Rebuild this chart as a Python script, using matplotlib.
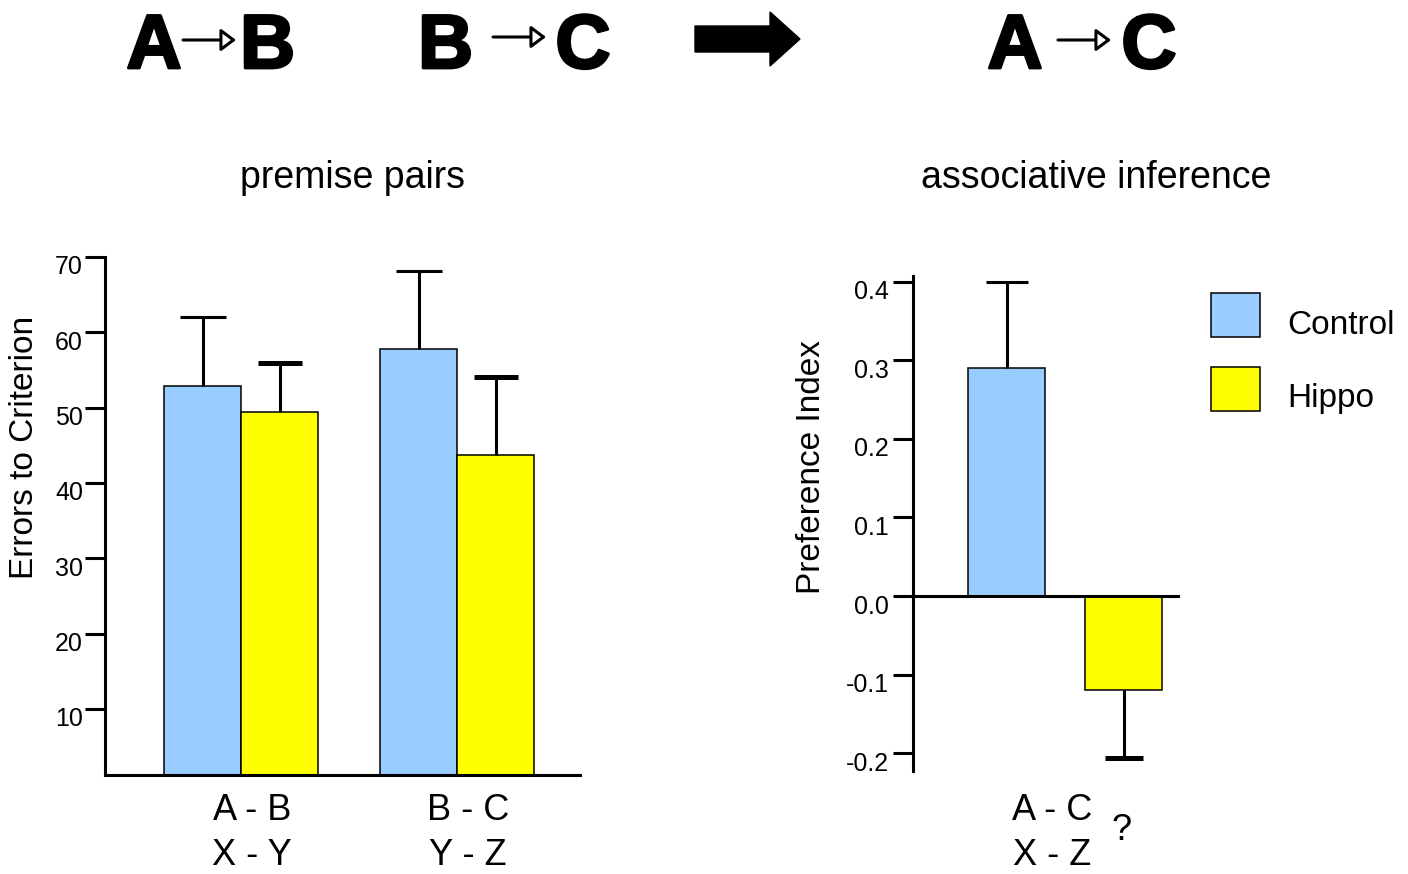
import matplotlib
matplotlib.use("Agg")
import numpy as np
import matplotlib.pyplot as plt
import matplotlib.transforms as mtransforms
from matplotlib.patches import FancyArrow, FancyArrowPatch, ArrowStyle, Patch
from matplotlib import patheffects

# ================== data ==================
pair_labels = ["A - B\nX - Y", "B - C\nY - Z"]
errors_control = [52.9, 57.8]
errors_control_sem = [9.1, 10.3]
errors_hippo = [49.4, 43.7]
errors_hippo_sem = [6.5, 10.4]
errors_ticks = [10, 20, 30, 40, 50, 60, 70]

inference_label = "A - C\nX - Z"
pref_control = [0.29]
pref_control_sem = [0.11]
pref_hippo = [-0.12]
pref_hippo_sem = [0.086]
pref_ticks = [-0.2, -0.1, 0.0, 0.1, 0.2, 0.3, 0.4]
pref_ticklabels = ["-0.2", "-0.1", "0.0", "0.1", "0.2", "0.3", "0.4"]

group_names = ["Control", "Hippo"]

# ================== style ==================
W, H = 1408, 874
CONTROL = "#99CCFF"
HIPPO = "#FFFF00"
LW = 2.2

plt.rcParams['font.family'] = ['Liberation Sans', 'DejaVu Sans']

fig = plt.figure(figsize=(W / 100, H / 100), dpi=100)
# pixel coords, origin top-left
px = mtransforms.Affine2D().scale(1 / W, -1 / H).translate(0, 1) + fig.transFigure


def rect(left, top, right, bottom):
    return [left / W, 1 - bottom / H, (right - left) / W, (bottom - top) / H]


def one_sided(ax, xs, ys, errs, up, capsize, capthick):
    zeros = np.zeros(len(errs))
    yerr = [zeros, errs] if up else [errs, zeros]
    _, caps, _ = ax.errorbar(xs, ys, yerr=yerr, fmt='none', ecolor='black',
                             elinewidth=LW, capsize=capsize, capthick=capthick, zorder=3)
    caps[0 if up else 1].set_visible(False)


def nudge(texts, dy):
    off = mtransforms.ScaledTranslation(0, -dy / 100, fig.dpi_scale_trans)
    for t in texts:
        t.set_transform(t.get_transform() + off)


# ---- left panel: premise pairs ----
ax1 = fig.add_axes(rect(105, 257, 580, 775))
x = np.arange(len(pair_labels))
bw = 0.357
ax1.bar(x - bw / 2, errors_control, bw, color=CONTROL, edgecolor='black', linewidth=1.1, zorder=2)
ax1.bar(x + bw / 2, errors_hippo, bw, color=HIPPO, edgecolor='black', linewidth=1.1, zorder=2)
one_sided(ax1, x - bw / 2, errors_control, errors_control_sem, True, 16.5, LW)
one_sided(ax1, x + bw / 2, errors_hippo, errors_hippo_sem, True, 16, 3.6)

ax1.set_xlim(-0.63, 1.569)
ax1.set_ylim(1.23, 70)
ax1.set_xticks([])
ax1.set_yticks(errors_ticks)
ax1.tick_params(axis='y', direction='out', length=14.4, width=LW, labelsize=18, pad=1.5)
for s in ['top', 'right']:
    ax1.spines[s].set_visible(False)
for s in ['left', 'bottom']:
    ax1.spines[s].set_linewidth(LW)
ax1.set_ylabel("Errors to Criterion", fontsize=24)
ax1.yaxis.set_label_coords(25, 447, transform=px)
ax1.yaxis.label.set_va('center')

# multi-line text: baseline anchors the last line
lab_tr = mtransforms.blended_transform_factory(ax1.transData, px)
for xi, lab in zip(x, pair_labels):
    ax1.text(xi + 0.05, 865, lab, transform=lab_tr, ha='center', va='baseline',
             fontsize=26, linespacing=1.37)

fig.text(353, 188, "premise pairs", transform=px, ha='center', va='baseline', fontsize=27)

# ---- right panel: associative inference ----
ax2 = fig.add_axes(rect(913, 276, 1178, 771))
bw2 = 0.655
ax2.bar([0], pref_control, bw2, color=CONTROL, edgecolor='black', linewidth=1.1, zorder=2)
ax2.bar([1], pref_hippo, bw2, color=HIPPO, edgecolor='black', linewidth=1.1, zorder=2)
one_sided(ax2, [0], pref_control, pref_control_sem, True, 15, LW)
one_sided(ax2, [1], pref_hippo, pref_hippo_sem, False, 14, 3.6)

ax2.set_xlim(-0.796, 1.46)
ax2.set_ylim(-0.2229, 0.4076)
ax2.set_xticks([])
ax2.set_yticks(pref_ticks, pref_ticklabels)
ax2.tick_params(axis='y', direction='out', length=14.4, width=LW, labelsize=18, pad=3)
for s in ['top', 'right']:
    ax2.spines[s].set_visible(False)
for s in ['left', 'bottom']:
    ax2.spines[s].set_linewidth(LW)
ax2.spines['bottom'].set_position(('data', 0))
ax2.set_ylabel("Preference Index", fontsize=24)
ax2.yaxis.set_label_coords(812, 467, transform=px)
ax2.yaxis.label.set_va('center')

lab_tr2 = mtransforms.blended_transform_factory(ax2.transData, px)
ax2.text(0.39, 865, inference_label, transform=lab_tr2, ha='center', va='baseline',
         fontsize=26, linespacing=1.37)
fig.text(1122, 840, "?", transform=px, ha='center', va='baseline', fontsize=26)

fig.text(1096, 188, "associative inference", transform=px, ha='center', va='baseline', fontsize=27)

nudge(ax1.get_yticklabels(), 8)
nudge(ax2.get_yticklabels(), 8)

# ---- legend ----
handles = [Patch(facecolor=CONTROL, edgecolor='black', linewidth=1.1),
           Patch(facecolor=HIPPO, edgecolor='black', linewidth=1.1)]
leg = fig.legend(handles, group_names, loc='upper left', bbox_to_anchor=(1211 / W, 1 - 293 / H),
                 frameon=False, fontsize=24, handlelength=1.47, handleheight=1.65,
                 handletextpad=0.81, labelspacing=0.89, borderpad=0, borderaxespad=0)
nudge(leg.get_texts(), 8)

# ---- top schematic ----
bold = dict(transform=px, ha='center', va='baseline', fontsize=55, fontweight='bold',
            path_effects=[patheffects.withStroke(linewidth=2, foreground='black')])
for cx, letter in [(154, "A"), (267.5, "B"), (445.5, "B"), (583, "C"), (1015, "A"), (1149, "C")]:
    fig.text(cx, 68, letter, **bold)

small_head = ArrowStyle('-|>', head_length=0.6, head_width=0.45)
for x0, x1, y in [(183, 236, 40), (493, 546, 37), (1058, 1111, 40)]:
    fig.add_artist(FancyArrowPatch((x0, y), (x1, y), transform=px, arrowstyle=small_head,
                                   mutation_scale=15, facecolor='white', edgecolor='black',
                                   linewidth=2.2, shrinkA=0, shrinkB=0))

fig.add_artist(FancyArrow(695, 39, 105, 0, width=26, head_width=54, head_length=30,
                          length_includes_head=True, transform=px, color='black'))

fig.savefig("out.png", dpi=100)
